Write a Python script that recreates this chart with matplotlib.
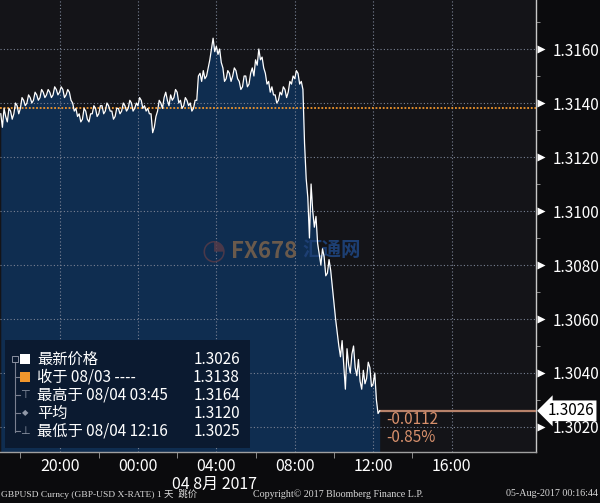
import numpy as np
import matplotlib
matplotlib.use('Agg')
import matplotlib.pyplot as plt
from matplotlib.patches import Rectangle
import matplotlib.transforms as mtransforms

# ---------------- data ----------------
# GBPUSD, 5-minute samples starting 17:00 on 03 Aug 2017 (hours relative to 04 Aug 00:00)
start_hour = -7.0
step_minutes = 5
prices = [
    # 17:00
    1.3136, 1.3131, 1.3138, 1.3135, 1.3133, 1.3138, 1.3137, 1.3134, 1.3136, 1.3140, 1.3139, 1.3136,
    # 18:00
    1.3138, 1.3142, 1.3141, 1.3139, 1.3140, 1.3143, 1.3142, 1.3140, 1.3141, 1.3144, 1.3143, 1.3141,
    # 19:00
    1.3142, 1.3145, 1.3144, 1.3142, 1.3143, 1.3145, 1.3144, 1.3142, 1.3143, 1.3146, 1.3145, 1.3143,
    # 20:00
    1.3144, 1.3146, 1.3145, 1.3142, 1.3143, 1.3145, 1.3144, 1.3141, 1.3140, 1.3137, 1.3138, 1.3135,
    # 21:00
    1.3136, 1.3133, 1.3134, 1.3138, 1.3137, 1.3134, 1.3133, 1.3136, 1.3136, 1.3139, 1.3138, 1.3135,
    # 22:00
    1.3136, 1.3139, 1.3139, 1.3136, 1.3137, 1.3140, 1.3139, 1.3137, 1.3137, 1.3134, 1.3135, 1.3138,
    # 23:00
    1.3138, 1.3136, 1.3137, 1.3140, 1.3139, 1.3137, 1.3138, 1.3141, 1.3140, 1.3137, 1.3138, 1.3140,
    # 00:00
    1.3139, 1.3142, 1.3141, 1.3138, 1.3139, 1.3137, 1.3138, 1.3136, 1.3136, 1.3129, 1.3131, 1.3135,
    # 01:00
    1.3137, 1.3141, 1.3140, 1.3138, 1.3142, 1.3144, 1.3141, 1.3139, 1.3143, 1.3141, 1.3142, 1.3145,
    # 02:00
    1.3144, 1.3140, 1.3141, 1.3138, 1.3139, 1.3142, 1.3141, 1.3139, 1.3140, 1.3137, 1.3138, 1.3141,
    # 03:00
    1.3141, 1.3150, 1.3151, 1.3148, 1.3152, 1.3149, 1.3150, 1.3153, 1.3156, 1.3160, 1.3164, 1.3159,
    # 04:00
    1.3161, 1.3158, 1.3160, 1.3155, 1.3153, 1.3148, 1.3149, 1.3152, 1.3151, 1.3148, 1.3150, 1.3153,
    # 05:00
    1.3152, 1.3149, 1.3148, 1.3145, 1.3146, 1.3150, 1.3150, 1.3146, 1.3147, 1.3151, 1.3153, 1.3150,
    # 06:00
    1.3156, 1.3154, 1.3160, 1.3156, 1.3157, 1.3153, 1.3151, 1.3147, 1.3148, 1.3144, 1.3146, 1.3143,
    # 07:00
    1.3143, 1.3140, 1.3141, 1.3144, 1.3143, 1.3146, 1.3145, 1.3142, 1.3144, 1.3148, 1.3147, 1.3150,
    # 08:00
    1.3149, 1.3152, 1.3151, 1.3147, 1.3148, 1.3145, 1.3125, 1.3112, 1.3105, 1.3090, 1.3110, 1.3100,
    # 09:00
    1.3094, 1.3098, 1.3088, 1.3084, 1.3080, 1.3086, 1.3083, 1.3076, 1.3077, 1.3082, 1.3078, 1.3072,
    # 10:00
    1.3066, 1.3060, 1.3055, 1.3050, 1.3046, 1.3052, 1.3043, 1.3034, 1.3049, 1.3043, 1.3040, 1.3047,
    # 11:00
    1.3050, 1.3042, 1.3039, 1.3045, 1.3037, 1.3034, 1.3041, 1.3036, 1.3038, 1.3044, 1.3042, 1.3035,
    # 12:00
    1.3036, 1.3040, 1.3030, 1.3025, 1.3026,
]

y_ticks = [1.3020, 1.3040, 1.3060, 1.3080, 1.3100, 1.3120, 1.3140, 1.3160]
y_minor = [1.3030, 1.3050, 1.3070, 1.3090, 1.3110, 1.3130, 1.3150, 1.3170]
x_tick_hours = [-4, 0, 4, 8, 12, 16]
x_tick_labels = ['20:00', '00:00', '04:00', '08:00', '12:00', '16:00']
x_minor_hours = [-6, -2, 2, 6, 10, 14]
date_label = '04 8月 2017'

close_price = 1.3138
last_price = 1.3026
change_abs = '-0.0112'
change_pct = '-0.85%'

legend_rows = [
    ('最新价格', '1.3026'),
    ('收于 08/03 ----', '1.3138'),
    ('最高于 08/04 03:45', '1.3164'),
    ('平均', '1.3120'),
    ('最低于 08/04 12:16', '1.3025'),
]

footer_left = 'GBPUSD Curncy (GBP-USD X-RATE) 1 天  跳价'
footer_mid = 'Copyright© 2017 Bloomberg Finance L.P.'
footer_right = '05-Aug-2017 00:16:44'

# ---------------- style ----------------
plt.rcParams['font.family'] = ['Noto Sans CJK SC', 'DejaVu Sans']
W, H = 600, 503
fig = plt.figure(figsize=(W / 100, H / 100), dpi=100, facecolor='#0b0b0d')


def fx(px):
    return px / W


def fy(py):
    return 1 - py / H


ax_bottom_px = 452
ax_right_px = 536
ax = fig.add_axes([0, fy(ax_bottom_px), fx(ax_right_px), ax_bottom_px / H])
ax.set_facecolor('#141418')

t = start_hour + np.arange(len(prices)) * step_minutes / 60.0
xmin, xmax = -7.04, 20.31
ymin, ymax = 1.301074, 1.317815
ax.set_xlim(xmin, xmax)
ax.set_ylim(ymin, ymax)

ax.fill_between(t, prices, ymin, color='#0f2d50', lw=0, zorder=1)
ax.plot(t, prices, color='white', lw=0.9, zorder=5)

# grid
for yv in y_ticks:
    ax.axhline(yv, color='#7a8294', lw=0.8, ls=(0, (1, 2)), zorder=2)
for xv in x_tick_hours:
    ax.axvline(xv, color='#7a8294', lw=0.8, ls=(0, (1, 2)), zorder=2)

# close line
ax.axhline(close_price, color='#f0962c', lw=1.3, ls=(0, (1, 1)), zorder=3)
# last price line
ax.plot([t[-1], xmax], [last_price, last_price], color='#b8826a', lw=1.6, zorder=4)

# watermark
ax.text(fx(214), fy(250), '◔', transform=fig.transFigure, fontsize=20,
        color='#5a3c48', ha='center', va='center', zorder=3, alpha=0.8,
        family=['DejaVu Sans'])
ax.text(fx(231), fy(251), 'FX678', transform=fig.transFigure, fontsize=16,
        fontweight='bold', color='#6a5a4c', ha='left', va='center', zorder=3)
ax.text(fx(302), fy(251), '汇通网', transform=fig.transFigure, fontsize=14,
        fontweight='bold', color='#1d3f73', ha='left', va='center', zorder=3)

# spines
for s in ['top', 'left']:
    ax.spines[s].set_visible(False)
ax.spines['right'].set_color('#c8c8c8')
ax.spines['right'].set_linewidth(1.0)
ax.spines['bottom'].set_color('#a0a0a0')
ax.spines['bottom'].set_linewidth(1.0)

# y axis (right)
ax.yaxis.tick_right()
ax.set_yticks(y_ticks)
ax.set_yticklabels([f'{v:.4f}' for v in y_ticks])
ax.set_yticks(y_minor, minor=True)
ax.tick_params(axis='y', which='major', length=0, pad=12, labelcolor='white',
               labelsize=11)
ax.tick_params(axis='y', which='minor', length=3, color='#a0a0a0', direction='out')
trans_y = mtransforms.blended_transform_factory(ax.transAxes, ax.transData)
ax.plot([1 + 5 / ax_right_px] * len(y_ticks), y_ticks, ls='none', marker='>',
        ms=5.5, color='white', mec='none', transform=trans_y, clip_on=False, zorder=6)

# last price box
ax.text(1 + 12 / ax_right_px, last_price, '1.3026', transform=trans_y, ha='left',
        va='center', color='black', fontsize=11, zorder=7, clip_on=False,
        bbox=dict(boxstyle='larrow,pad=0.12', fc='white', ec='none'))

# change texts
ax.text(fx(386), fy(419), change_abs, transform=fig.transFigure, color='#d8906c',
        fontsize=11, ha='left', va='center', zorder=6)
ax.text(fx(386), fy(437), change_pct, transform=fig.transFigure, color='#d8906c',
        fontsize=11, ha='left', va='center', zorder=6)

# x axis
ax.set_xticks(x_tick_hours)
ax.set_xticklabels(x_tick_labels)
ax.set_xticks(x_minor_hours, minor=True)
ax.tick_params(axis='x', which='major', length=0, pad=4, labelcolor='white',
               labelsize=11.5)
ax.tick_params(axis='x', which='minor', length=4, color='#a0a0a0', direction='out')
fig.text(fx(215), fy(484), date_label, ha='center', va='center', color='white',
         fontsize=11.5)

# legend box
fig.add_artist(Rectangle((fx(5), fy(448)), fx(245), 108 / H, transform=fig.transFigure,
                         fc='#0b1a30', ec='none', zorder=5))
row_y = [359, 377, 395, 413, 431]
# tree line
fig.add_artist(plt.Line2D([fx(15), fx(15)], [fy(362), fy(432)], color='#7a8090',
                          lw=0.8, transform=fig.transFigure, zorder=6))
fig.add_artist(Rectangle((fx(12), fy(362)), fx(6), 6 / H, transform=fig.transFigure,
                         fc='none', ec='#8a90a0', lw=0.7, zorder=6))
for i, ry in enumerate(row_y[1:], start=1):
    fig.add_artist(plt.Line2D([fx(15), fx(20)], [fy(ry), fy(ry)], color='#7a8090',
                              lw=0.8, transform=fig.transFigure, zorder=6))
sym = {2: '⊤', 3: '◆', 4: '⊥'}
for i, s in sym.items():
    fig.text(fx(25), fy(row_y[i]), s, ha='center', va='center', color='#9098a8',
             fontsize=6 if s == '◆' else 8, zorder=7, family=['DejaVu Sans'])
fig.add_artist(Rectangle((fx(20), fy(row_y[0] + 5)), fx(10), 10 / H,
                         transform=fig.transFigure, fc='white', ec='none', zorder=6))
fig.add_artist(Rectangle((fx(20), fy(row_y[1] + 5)), fx(10), 10 / H,
                         transform=fig.transFigure, fc='#f0962c', ec='none', zorder=6))
for (label, val), ry in zip(legend_rows, row_y):
    fig.text(fx(37), fy(ry), label, ha='left', va='center', color='white',
             fontsize=11, zorder=7)
    fig.text(fx(240), fy(ry), val, ha='right', va='center', color='white',
             fontsize=11, zorder=7)

# footer
ffam = ['Liberation Serif', 'Noto Sans CJK SC']
fig.text(fx(1), fy(494), footer_left, ha='left', va='center', color='#d8d8d8',
         fontsize=6.8, family=ffam)
fig.text(fx(253), fy(494), footer_mid, ha='left', va='center', color='#d8d8d8',
         fontsize=7.2, family=ffam)
fig.text(fx(598), fy(494), footer_right, ha='right', va='center', color='#d8d8d8',
         fontsize=7.2, family=ffam)

fig.savefig('out.png', dpi=100, facecolor=fig.get_facecolor())
